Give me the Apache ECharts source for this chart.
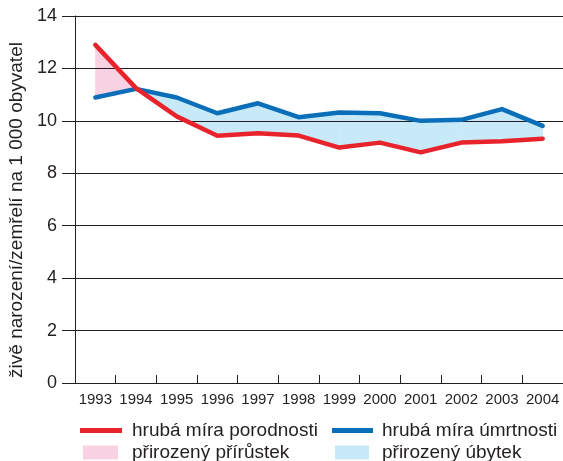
<!DOCTYPE html>
<html>
<head>
<meta charset="utf-8">
<script src="https://cdn.jsdelivr.net/npm/echarts@6/dist/echarts.min.js"></script>
<style>
  html, body { margin: 0; padding: 0; background: #fff; }
  #chart { width: 563px; height: 461px; }
</style>
</head>
<body>
<div id="chart"></div>
<script>
// Hrubá míra porodnosti a úmrtnosti (na 1 000 obyvatel), 1993–2004
const years = ['1993', '1994', '1995', '1996', '1997', '1998', '1999', '2000', '2001', '2002', '2003', '2004'];
const birthRate = [12.9, 11.25, 10.17, 9.43, 9.53, 9.44, 8.98, 9.17, 8.8, 9.17, 9.22, 9.32];
const deathRate = [10.89, 11.22, 10.89, 10.29, 10.67, 10.14, 10.32, 10.29, 10.0, 10.04, 10.45, 9.81];
const yTicks = { min: 0, max: 14, step: 2 };

const RED = '#e8232b';
const BLUE = '#0a6fb8';
const PINK = '#f8d2e2';
const SKY = '#c8e9f8';
const INK = '#231f20';
const FONT = 'Liberation Sans, Arial, sans-serif';

// Polygons of the band between the two lines on segment i where sign*(birth-death) > 0
function bandPolys(i, sign, api) {
  const r0 = birthRate[i], r1 = birthRate[i + 1];
  const b0 = deathRate[i], b1 = deathRate[i + 1];
  const d0 = sign * (r0 - b0), d1 = sign * (r1 - b1);
  const P = (x, y) => api.coord([x, y]);
  if (d0 >= 0 && d1 >= 0) {
    return [[P(i, r0), P(i + 1, r1), P(i + 1, b1), P(i, b0)]];
  }
  if (d0 < 0 && d1 < 0) return [];
  const t = d0 / (d0 - d1);
  const yc = r0 + t * (r1 - r0);
  const a = P(i, yc), c = P(i + 1, yc);
  const cross = [a[0] + t * (c[0] - a[0]), a[1]];
  if (d0 > 0) return [[P(i, r0), cross, P(i, b0)]];
  return [[cross, P(i + 1, r1), P(i + 1, b1)]];
}

function bandSeries(name, sign, color) {
  return {
    name: name,
    type: 'custom',
    z: -1,
    silent: true,
    itemStyle: { color: color },
    data: years.slice(0, -1).map((_, i) => [i, birthRate[i]]),
    renderItem: function (params, api) {
      const i = api.value(0);
      const polys = bandPolys(i, sign, api);
      return {
        type: 'group',
        children: polys.map(pts => ({
          type: 'polygon',
          shape: { points: pts },
          style: { fill: color, stroke: color, lineWidth: 0.5 }
        }))
      };
    }
  };
}

function legendItem(name, left, top, w, h, gap) {
  return {
    data: [name],
    left: left,
    top: top,
    padding: 0,
    icon: 'rect',
    itemWidth: w,
    itemHeight: h,
    selectedMode: false,
    textStyle: { fontFamily: FONT, fontSize: 19, color: INK, padding: [0, 0, 0, gap] }
  };
}

const chart = echarts.init(document.getElementById('chart'), null, { renderer: 'canvas' });
chart.setOption({
  animation: false,
  backgroundColor: '#fff',
  grid: { left: 75, top: 16, width: 490, height: 367, containLabel: false },
  xAxis: {
    type: 'category',
    data: years,
    boundaryGap: true,
    axisLine: { show: true, lineStyle: { color: INK, width: 1 } },
    axisTick: { show: true, inside: true, length: 8, lineStyle: { color: INK } },
    axisLabel: { interval: 0, fontFamily: FONT, fontSize: 15, color: INK, margin: 9 },
    splitLine: { show: false }
  },
  yAxis: {
    type: 'value',
    min: yTicks.min,
    max: yTicks.max,
    interval: yTicks.step,
    axisLine: { show: true, lineStyle: { color: INK, width: 1 } },
    axisTick: { show: true, length: 13, lineStyle: { color: INK } },
    axisLabel: { fontFamily: FONT, fontSize: 18, color: INK, margin: 18 },
    splitLine: { show: true, lineStyle: { color: INK, width: 1 } }
  },
  legend: [
    legendItem('hrubá míra porodnosti', 80, 421, 42, 5, 5),
    legendItem('hrubá míra úmrtnosti', 332, 421, 41, 5, 4),
    legendItem('přirozený přírůstek', 83, 443, 35, 14, 9),
    legendItem('přirozený úbytek', 335, 443, 34, 14, 8)
  ],
  graphic: [{
    type: 'text',
    x: 17,
    y: 210,
    rotation: Math.PI / 2,
    style: {
      text: 'živě narození/zemřelí na 1 000 obyvatel',
      fontFamily: FONT,
      fontSize: 19,
      fill: INK,
      align: 'center',
      verticalAlign: 'middle'
    }
  }],
  series: [
    bandSeries('přirozený přírůstek', 1, PINK),
    bandSeries('přirozený úbytek', -1, SKY),
    {
      name: 'hrubá míra úmrtnosti',
      type: 'line',
      data: deathRate,
      showSymbol: false,
      symbol: 'none',
      itemStyle: { color: BLUE },
      lineStyle: { color: BLUE, width: 4.5, cap: 'round', join: 'round' },
      z: 3
    },
    {
      name: 'hrubá míra porodnosti',
      type: 'line',
      data: birthRate,
      showSymbol: false,
      symbol: 'none',
      itemStyle: { color: RED },
      lineStyle: { color: RED, width: 4.5, cap: 'round', join: 'round' },
      z: 4
    }
  ]
});
</script>
</body>
</html>
